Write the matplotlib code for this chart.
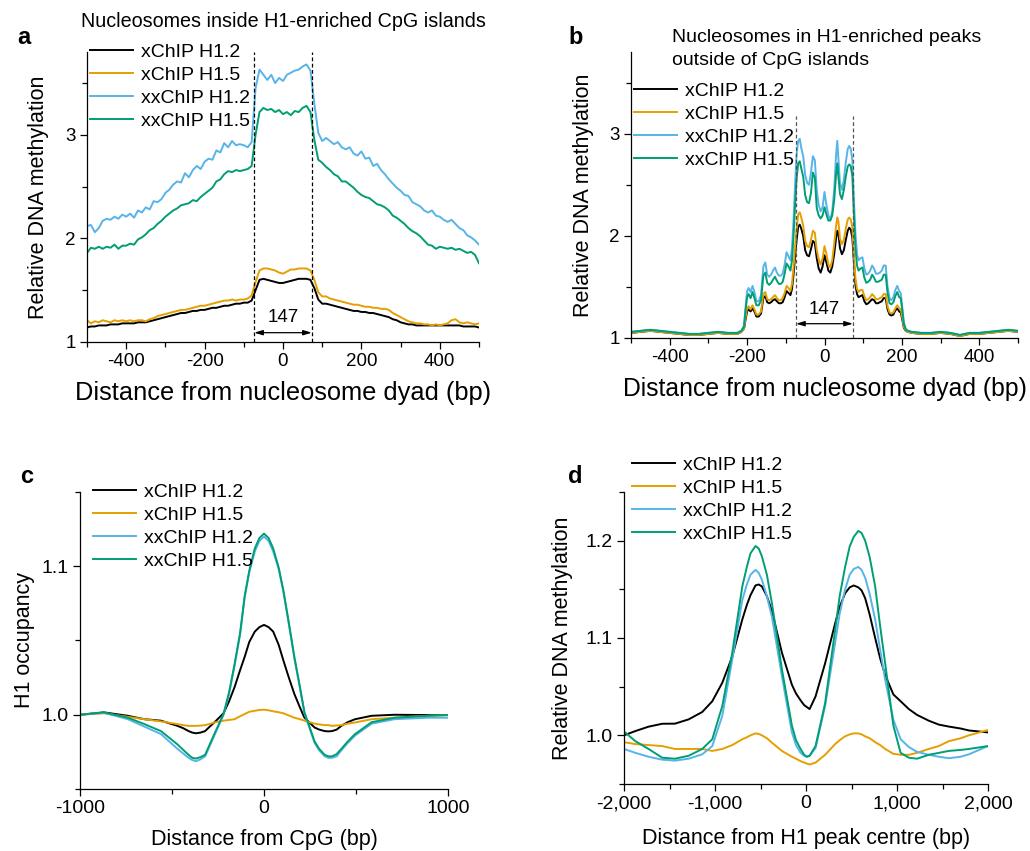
import matplotlib
matplotlib.use('Agg')
import matplotlib.pyplot as plt
from matplotlib.ticker import MultipleLocator, FixedLocator, FuncFormatter, FormatStrFormatter

plt.rcParams['font.family'] = ['Liberation Sans', 'DejaVu Sans']
plt.rcParams['axes.unicode_minus'] = False

labels = ['xChIP H1.2', 'xChIP H1.5', 'xxChIP H1.2', 'xxChIP H1.5']
colors = ['#000000', '#E69F00', '#56B4E9', '#009E73']

# --- a: nucleosomes inside H1-enriched CpG islands (10 bp bins) ---
pos_a = list(range(-500, 501, 10))
a_x12 = [1.14, 1.15, 1.15, 1.16, 1.16, 1.16, 1.17, 1.17, 1.17, 1.18, 1.18, 1.18, 1.18, 1.19, 1.19, 1.19, 1.20,
         1.21, 1.22, 1.23, 1.24, 1.25, 1.26, 1.27, 1.28, 1.28, 1.29, 1.30, 1.30, 1.31, 1.31, 1.32, 1.33, 1.33,
         1.34, 1.35, 1.35, 1.36, 1.37, 1.37, 1.38, 1.38, 1.40, 1.50, 1.60, 1.61, 1.60, 1.59, 1.58, 1.57, 1.57,
         1.58, 1.59, 1.60, 1.61, 1.61, 1.61, 1.60, 1.52, 1.41, 1.37, 1.37, 1.36, 1.35, 1.34, 1.33, 1.32, 1.31,
         1.30, 1.30, 1.29, 1.29, 1.28, 1.28, 1.27, 1.26, 1.25, 1.24, 1.22, 1.21, 1.19, 1.18, 1.17, 1.17, 1.16,
         1.16, 1.16, 1.16, 1.16, 1.16, 1.16, 1.16, 1.16, 1.16, 1.16, 1.16, 1.15, 1.15, 1.15, 1.15, 1.14]
a_x15 = [1.21, 1.18, 1.20, 1.19, 1.21, 1.20, 1.19, 1.21, 1.20, 1.21, 1.20, 1.21, 1.20, 1.21, 1.21, 1.20, 1.22,
         1.23, 1.25, 1.26, 1.27, 1.28, 1.29, 1.30, 1.31, 1.31, 1.32, 1.33, 1.34, 1.35, 1.35, 1.36, 1.37, 1.38,
         1.39, 1.40, 1.40, 1.41, 1.40, 1.41, 1.41, 1.42, 1.45, 1.58, 1.69, 1.71, 1.71, 1.70, 1.69, 1.67, 1.66,
         1.68, 1.70, 1.70, 1.71, 1.71, 1.71, 1.69, 1.60, 1.48, 1.44, 1.44, 1.42, 1.41, 1.40, 1.39, 1.38, 1.37,
         1.36, 1.36, 1.35, 1.34, 1.34, 1.33, 1.33, 1.32, 1.32, 1.31, 1.28, 1.26, 1.24, 1.22, 1.20, 1.19, 1.18,
         1.18, 1.17, 1.17, 1.16, 1.17, 1.16, 1.17, 1.18, 1.21, 1.22, 1.19, 1.18, 1.19, 1.18, 1.17, 1.18]
a_xx12 = [2.12, 2.13, 2.06, 2.10, 2.17, 2.19, 2.18, 2.21, 2.19, 2.23, 2.21, 2.24, 2.20, 2.27, 2.25, 2.30, 2.28,
          2.36, 2.35, 2.38, 2.44, 2.47, 2.52, 2.55, 2.54, 2.63, 2.59, 2.66, 2.70, 2.67, 2.74, 2.77, 2.76, 2.85,
          2.83, 2.92, 2.88, 2.94, 2.90, 2.91, 2.90, 2.88, 2.93, 3.45, 3.63, 3.58, 3.53, 3.58, 3.50, 3.55, 3.52,
          3.58, 3.60, 3.62, 3.63, 3.66, 3.68, 3.62, 3.30, 3.02, 2.94, 2.97, 2.94, 2.91, 2.93, 2.88, 2.86, 2.88,
          2.82, 2.80, 2.84, 2.77, 2.78, 2.70, 2.72, 2.66, 2.62, 2.57, 2.53, 2.49, 2.46, 2.42, 2.41, 2.35, 2.33,
          2.31, 2.27, 2.25, 2.27, 2.22, 2.21, 2.18, 2.16, 2.18, 2.14, 2.10, 2.08, 2.03, 2.01, 1.98, 1.94]
a_xx15 = [1.86, 1.91, 1.90, 1.92, 1.90, 1.92, 1.91, 1.94, 1.90, 1.93, 1.93, 1.95, 1.94, 1.99, 2.01, 2.04, 2.08,
          2.10, 2.14, 2.17, 2.21, 2.24, 2.27, 2.29, 2.32, 2.33, 2.34, 2.37, 2.36, 2.40, 2.43, 2.46, 2.49, 2.55,
          2.57, 2.62, 2.65, 2.64, 2.66, 2.65, 2.66, 2.67, 2.70, 3.00, 3.22, 3.26, 3.24, 3.25, 3.22, 3.24, 3.20,
          3.22, 3.19, 3.23, 3.22, 3.26, 3.28, 3.22, 2.95, 2.76, 2.73, 2.69, 2.66, 2.62, 2.60, 2.55, 2.55, 2.52,
          2.49, 2.45, 2.42, 2.40, 2.39, 2.36, 2.33, 2.32, 2.30, 2.27, 2.22, 2.20, 2.17, 2.14, 2.10, 2.07, 2.05,
          2.02, 1.98, 1.94, 1.93, 1.90, 1.92, 1.91, 1.90, 1.91, 1.89, 1.90, 1.88, 1.86, 1.87, 1.84, 1.76]

# --- b: nucleosomes in H1-enriched peaks outside CpG islands ---
pos_b = [-500, -475, -450, -425, -400, -375, -350, -325, -300, -275, -250, -225,
         -215, -208, -204, -200, -196, -191, -186, -181, -176, -170, -164, -158, -153, -148, -143, -138, -133,
         -128, -123, -118, -113, -108, -103, -98, -93, -88, -84, -80, -76, -72, -68, -64, -60,
         -55, -50, -45, -40, -35, -30, -25, -20, -15, -10, -5, 0, 5, 10, 15, 20, 25, 30, 33, 36, 40, 45, 50, 55,
         60, 64, 68, 72, 76, 80, 84, 88,
         93, 98, 103, 108, 113, 118, 123, 128, 133, 138, 143, 148, 153, 158,
         163, 168, 173, 178, 183, 188, 193,
         197, 201, 205, 210, 216,
         225, 250, 275, 300, 325, 350, 375, 400, 425, 450, 475, 500]
b_x12 = [1.05, 1.06, 1.07, 1.06, 1.05, 1.04, 1.03, 1.03, 1.04, 1.05, 1.04, 1.04,
         1.06, 1.09, 1.18, 1.26, 1.28, 1.26, 1.29, 1.26, 1.21, 1.21, 1.24, 1.39, 1.41, 1.35, 1.34, 1.35, 1.37,
         1.38, 1.36, 1.34, 1.34, 1.35, 1.40, 1.46, 1.44, 1.42, 1.48, 1.62, 1.80, 1.96, 2.09, 2.11, 2.07,
         2.00, 1.86, 1.81, 1.80, 1.87, 1.95, 1.93, 1.78, 1.68, 1.64, 1.70, 1.81, 1.74, 1.66, 1.64, 1.70, 1.82,
         1.98, 2.05, 2.02, 1.88, 1.82, 1.86, 1.96,
         2.05, 2.08, 2.06, 1.98, 1.74, 1.52, 1.43, 1.40,
         1.41, 1.42, 1.36, 1.33, 1.34, 1.36, 1.38, 1.37, 1.34, 1.34, 1.35, 1.36, 1.39, 1.39,
         1.28, 1.23, 1.22, 1.23, 1.27, 1.29, 1.26,
         1.25, 1.18, 1.10, 1.07, 1.06,
         1.05, 1.04, 1.04, 1.05, 1.04, 1.02, 1.04, 1.04, 1.05, 1.06, 1.07, 1.06]
b_x15 = [1.05, 1.06, 1.07, 1.06, 1.05, 1.04, 1.03, 1.03, 1.04, 1.05, 1.04, 1.04,
         1.06, 1.09, 1.20, 1.29, 1.31, 1.28, 1.32, 1.28, 1.23, 1.23, 1.26, 1.43, 1.45, 1.38, 1.37, 1.38, 1.40,
         1.42, 1.39, 1.37, 1.37, 1.39, 1.44, 1.51, 1.49, 1.46, 1.53, 1.69, 1.89, 2.07, 2.21, 2.23, 2.18,
         2.10, 1.95, 1.90, 1.89, 1.96, 2.05, 2.03, 1.86, 1.77, 1.72, 1.78, 1.90, 1.82, 1.72, 1.69, 1.76, 1.92,
         2.10, 2.18, 2.14, 1.97, 1.92, 1.96, 2.07,
         2.16, 2.18, 2.16, 2.08, 1.80, 1.58, 1.48, 1.45,
         1.47, 1.47, 1.41, 1.37, 1.38, 1.40, 1.43, 1.41, 1.38, 1.38, 1.39, 1.40, 1.43, 1.43,
         1.31, 1.25, 1.24, 1.25, 1.29, 1.32, 1.29,
         1.28, 1.20, 1.11, 1.07, 1.06,
         1.05, 1.04, 1.04, 1.05, 1.04, 1.02, 1.04, 1.04, 1.05, 1.06, 1.07, 1.06]
b_xx12 = [1.06, 1.07, 1.08, 1.07, 1.06, 1.05, 1.04, 1.04, 1.05, 1.06, 1.05, 1.05,
          1.07, 1.12, 1.30, 1.46, 1.49, 1.45, 1.51, 1.45, 1.36, 1.36, 1.42, 1.70, 1.74, 1.62, 1.60, 1.62, 1.66,
          1.69, 1.64, 1.61, 1.61, 1.63, 1.72, 1.84, 1.80, 1.76, 1.88, 2.15, 2.50, 2.80, 2.93, 2.95, 2.86,
          2.78, 2.60, 2.52, 2.50, 2.62, 2.78, 2.74, 2.45, 2.30, 2.24, 2.28, 2.43, 2.30, 2.20, 2.16, 2.24, 2.45,
          2.80, 2.93, 2.75, 2.52, 2.45, 2.55, 2.72,
          2.85, 2.88, 2.85, 2.74, 2.35, 2.02, 1.82, 1.76,
          1.78, 1.79, 1.68, 1.62, 1.63, 1.66, 1.71, 1.68, 1.63, 1.63, 1.64, 1.66, 1.71, 1.71,
          1.50, 1.39, 1.37, 1.40, 1.47, 1.51, 1.46,
          1.44, 1.30, 1.15, 1.09, 1.07,
          1.06, 1.05, 1.05, 1.06, 1.05, 1.03, 1.05, 1.05, 1.06, 1.07, 1.08, 1.07]
b_xx15 = [1.06, 1.07, 1.08, 1.07, 1.06, 1.05, 1.04, 1.04, 1.05, 1.06, 1.05, 1.05,
          1.07, 1.11, 1.27, 1.40, 1.43, 1.39, 1.45, 1.39, 1.32, 1.32, 1.37, 1.61, 1.64, 1.54, 1.52, 1.54, 1.57,
          1.60, 1.56, 1.53, 1.53, 1.55, 1.63, 1.73, 1.70, 1.66, 1.76, 2.00, 2.30, 2.56, 2.71, 2.73, 2.66,
          2.58, 2.40, 2.33, 2.32, 2.42, 2.62, 2.57, 2.27, 2.20, 2.17, 2.20, 2.28, 2.21, 2.15, 2.15, 2.20, 2.35,
          2.60, 2.71, 2.58, 2.41, 2.36, 2.45, 2.58,
          2.68, 2.70, 2.68, 2.58, 2.20, 1.88, 1.71, 1.66,
          1.68, 1.69, 1.59, 1.54, 1.55, 1.57, 1.62, 1.59, 1.55, 1.55, 1.56, 1.57, 1.62, 1.62,
          1.44, 1.34, 1.33, 1.35, 1.41, 1.45, 1.40,
          1.39, 1.27, 1.14, 1.08, 1.07,
          1.06, 1.05, 1.05, 1.06, 1.05, 1.03, 1.05, 1.05, 1.06, 1.07, 1.08, 1.07]

# --- c: H1 occupancy around CpG ---
pos_c = [-1000, -870, -740, -650, -560, -470, -440, -410, -390, -370, -345, -320, -295, -270, -220, -190,
         -160, -130, -105, -80, -50, -25, 0, 25, 50, 80, 105, 135, 165, 195, 220, 275, 300, 330, 350, 370,
         395, 420, 455, 495, 585, 710, 890, 1000]
c_x12 = [1.000, 1.0016, 0.9993, 0.997, 0.996, 0.9925, 0.991, 0.989, 0.988, 0.9875, 0.988, 0.989, 0.992,
         0.9948, 1.001, 1.009, 1.0186, 1.030, 1.039, 1.049, 1.056, 1.059, 1.0605, 1.059, 1.056, 1.047, 1.0367,
         1.025, 1.014, 1.005, 0.998, 0.9914, 0.990, 0.989, 0.9888, 0.989, 0.990, 0.9925, 0.995, 0.997, 0.9993,
         1.000, 0.9998, 0.9998]
c_x15 = [1.000, 1.001, 0.9986, 0.997, 0.9955, 0.9937, 0.993, 0.9925, 0.9925, 0.9925, 0.9927, 0.993, 0.9938,
         0.9948, 0.996, 0.9965, 0.997, 0.999, 1.0005, 1.002, 1.0027, 1.0032, 1.0034, 1.003, 1.0023, 1.0017,
         1.001, 0.9995, 0.998, 0.997, 0.996, 0.994, 0.9935, 0.993, 0.993, 0.9925, 0.9928, 0.993, 0.994, 0.9948,
         0.997, 0.998, 0.9993, 0.9998]
c_xx12 = [1.000, 1.0014, 0.997, 0.992, 0.987, 0.977, 0.974, 0.971, 0.9695, 0.9687, 0.970, 0.972, 0.979,
          0.986, 1.000, 1.014, 1.033, 1.054, 1.079, 1.096, 1.110, 1.117, 1.120, 1.117, 1.110, 1.098, 1.083,
          1.061, 1.038, 1.018, 1.001, 0.981, 0.976, 0.972, 0.971, 0.971, 0.972, 0.976, 0.981, 0.986, 0.994,
          0.997, 0.998, 0.998]
c_xx15 = [1.000, 1.0016, 0.998, 0.9937, 0.989, 0.980, 0.9765, 0.973, 0.971, 0.9705, 0.9715, 0.973, 0.980,
          0.987, 1.0005, 1.015, 1.034, 1.055, 1.080, 1.097, 1.112, 1.119, 1.122, 1.119, 1.112, 1.099, 1.084,
          1.062, 1.039, 1.019, 1.0016, 0.982, 0.977, 0.973, 0.972, 0.972, 0.9735, 0.977, 0.982, 0.987, 0.995,
          0.998, 0.9993, 0.9998]

# --- d: DNA methylation around H1 peak centre ---
pos_d = [-2000, -1875, -1730, -1580, -1440, -1290, -1140, -1030, -920, -810, -700, -650, -610, -555, -520,
         -485, -430, -375, -265, -155, -110, -60, -20, 10, 40, 105, 210, 320, 370, 430, 480, 525, 575, 610,
         650, 700, 760, 815, 870, 960, 1040, 1130, 1220, 1350, 1460, 1570, 1700, 1790, 2000]
d_x12 = [1.000, 1.0044, 1.0089, 1.0119, 1.012, 1.0164, 1.024, 1.035, 1.054, 1.081, 1.119, 1.134, 1.144,
         1.154, 1.155, 1.153, 1.143, 1.128, 1.085, 1.052, 1.043, 1.036, 1.031, 1.029, 1.027, 1.040, 1.074,
         1.115, 1.132, 1.146, 1.152, 1.154, 1.152, 1.149, 1.141, 1.124, 1.100, 1.079, 1.062, 1.042, 1.035,
         1.027, 1.021, 1.015, 1.011, 1.009, 1.007, 1.005, 1.003]
d_x15 = [0.993, 0.991, 0.990, 0.989, 0.986, 0.986, 0.986, 0.984, 0.986, 0.990, 0.996, 0.998, 1.000, 1.002,
         1.0015, 1.000, 0.997, 0.9925, 0.984, 0.978, 0.976, 0.9735, 0.972, 0.971, 0.970, 0.972, 0.980, 0.991,
         0.995, 0.999, 1.001, 1.002, 1.002, 1.001, 0.999, 0.997, 0.993, 0.990, 0.986, 0.981, 0.980, 0.980,
         0.982, 0.986, 0.989, 0.994, 0.997, 1.000, 1.0055]
d_xx12 = [0.986, 0.982, 0.978, 0.975, 0.974, 0.976, 0.9805, 0.989, 1.020, 1.078, 1.139, 1.155, 1.165, 1.170,
          1.167, 1.160, 1.143, 1.122, 1.061, 1.003, 0.990, 0.982, 0.979, 0.978, 0.979, 0.987, 1.030, 1.095,
          1.125, 1.150, 1.165, 1.171, 1.173, 1.170, 1.162, 1.145, 1.119, 1.088, 1.057, 1.016, 0.996, 0.988,
          0.983, 0.980, 0.978, 0.9765, 0.978, 0.9805, 0.989]
d_xx15 = [1.004, 0.994, 0.986, 0.977, 0.976, 0.979, 0.986, 0.996, 1.030, 1.085, 1.153, 1.173, 1.187, 1.1945,
          1.192, 1.184, 1.165, 1.136, 1.068, 1.010, 0.995, 0.986, 0.980, 0.978, 0.979, 0.989, 1.033, 1.108,
          1.143, 1.173, 1.194, 1.204, 1.210, 1.208, 1.200, 1.183, 1.153, 1.112, 1.074, 1.010, 0.982, 0.977,
          0.976, 0.980, 0.982, 0.984, 0.985, 0.986, 0.989]

W, H = 1030, 851
fig = plt.figure(figsize=(W / 100, H / 100), dpi=100)


def rect(l, t, r, b):
    return [l / W, 1 - b / H, (r - l) / W, (b - t) / H]


def fpos(x, y):
    return x / W, 1 - y / H


def style(ax, tick_size):
    for s in ('top', 'right'):
        ax.spines[s].set_visible(False)
    for s in ('left', 'bottom'):
        ax.spines[s].set_linewidth(0.9)
    ax.tick_params(which='major', direction='out', length=5, width=0.9, labelsize=tick_size, pad=3)
    ax.tick_params(which='minor', direction='out', length=3.5, width=0.9)


def draw(ax, x, series, lw):
    for ys, c, lab in zip(series, colors, labels):
        ax.plot(x, ys, color=c, lw=lw, label=lab, solid_joinstyle='round')


def legend(ax, x, y):
    ax.legend(loc='upper left', bbox_to_anchor=fpos(x, y), bbox_transform=fig.transFigure,
              frameon=False, fontsize=14, handlelength=2.2, handletextpad=0.4,
              labelspacing=0.28, borderpad=0, borderaxespad=0)


def span_arrow(ax, y_arrow, y_text):
    ax.annotate('', xy=(-73.5, y_arrow), xytext=(73.5, y_arrow),
                arrowprops=dict(arrowstyle='<|-|>,head_length=0.5,head_width=0.15',
                                color='black', lw=0.9, shrinkA=0, shrinkB=0))
    ax.text(0, y_text, '147', ha='center', va='center', fontsize=13.5)


# panel a
ax = fig.add_axes(rect(87, 52, 479, 342))
style(ax, 13.5)
draw(ax, pos_a, [a_x12, a_x15, a_xx12, a_xx15], 1.4)
ax.set_xlim(-500, 500)
ax.set_ylim(1, 3.8)
ax.xaxis.set_major_locator(FixedLocator([-400, -200, 0, 200, 400]))
ax.xaxis.set_minor_locator(FixedLocator([-500, -300, -100, 100, 300, 500]))
ax.yaxis.set_major_locator(FixedLocator([1, 2, 3]))
ax.yaxis.set_minor_locator(FixedLocator([1.5, 2.5, 3.5]))
for xv in (-73.5, 73.5):
    ax.plot([xv, xv], [1, 3.8], color='black', lw=0.9, ls=(0, (3, 2)), clip_on=False)
span_arrow(ax, 1.09, 1.24)
ax.set_xlabel('Distance from nucleosome dyad (bp)', fontsize=18.3)
ax.set_ylabel('Relative DNA methylation', fontsize=15.5)
ax.xaxis.set_label_coords(0.5, -0.135)
ax.yaxis.set_label_coords(-0.097, 0.5)
ax.set_title('Nucleosomes inside H1-enriched CpG islands', fontsize=14.2, pad=18)
legend(ax, 90, 43)

# panel b
ax = fig.add_axes(rect(631, 52, 1018, 338))
style(ax, 13.5)
draw(ax, pos_b, [b_x12, b_x15, b_xx12, b_xx15], 1.4)
ax.set_xlim(-500, 500)
ax.set_ylim(1, 3.8)
ax.xaxis.set_major_locator(FixedLocator([-400, -200, 0, 200, 400]))
ax.xaxis.set_minor_locator(FixedLocator([-500, -300, -100, 100, 300, 500]))
ax.yaxis.set_major_locator(FixedLocator([1, 2, 3]))
ax.yaxis.set_minor_locator(FixedLocator([1.5, 2.5, 3.5]))
for xv in (-73.5, 73.5):
    ax.plot([xv, xv], [1, 3.17], color='#555555', lw=0.9, ls=(0, (3, 2)))
span_arrow(ax, 1.14, 1.28)
ax.set_xlabel('Distance from nucleosome dyad (bp)', fontsize=17.8)
ax.set_ylabel('Relative DNA methylation', fontsize=15.5)
ax.xaxis.set_label_coords(0.5, -0.135)
ax.yaxis.set_label_coords(-0.095, 0.5)
fig.text(*fpos(672, 29), 'Nucleosomes in H1-enriched peaks\noutside of CpG islands',
         fontsize=14, ha='left', va='top', linespacing=1.45)
legend(ax, 634, 82)

# panel c
ax = fig.add_axes(rect(80, 492, 448, 789))
style(ax, 14)
draw(ax, pos_c, [c_x12, c_x15, c_xx12, c_xx15], 1.4)
ax.set_xlim(-1000, 1000)
ax.set_ylim(0.95, 1.15)
ax.xaxis.set_major_locator(FixedLocator([-1000, 0, 1000]))
ax.xaxis.set_minor_locator(FixedLocator([-500, 500]))
ax.yaxis.set_major_locator(FixedLocator([1.0, 1.1]))
ax.yaxis.set_minor_locator(FixedLocator([0.95, 1.05, 1.15]))
ax.yaxis.set_major_formatter(FormatStrFormatter('%.1f'))
ax.set_xlabel('Distance from CpG (bp)', fontsize=15.5)
ax.set_ylabel('H1 occupancy', fontsize=15.5)
ax.xaxis.set_label_coords(0.5, -0.135)
ax.yaxis.set_label_coords(-0.122, 0.5)
legend(ax, 93, 483)

# panel d
ax = fig.add_axes(rect(624, 492, 988, 784))
style(ax, 14)
draw(ax, pos_d, [d_x12, d_x15, d_xx12, d_xx15], 1.4)
ax.set_xlim(-2000, 2000)
ax.set_ylim(0.95, 1.25)
ax.xaxis.set_major_locator(MultipleLocator(1000))
ax.xaxis.set_minor_locator(FixedLocator([-1500, -500, 500, 1500]))
ax.yaxis.set_major_locator(FixedLocator([1.0, 1.1, 1.2]))
ax.yaxis.set_minor_locator(FixedLocator([0.95, 1.05, 1.15, 1.25]))
ax.yaxis.set_major_formatter(FormatStrFormatter('%.1f'))
ax.xaxis.set_major_formatter(FuncFormatter(lambda v, p: f'{int(v):,}'))
ax.set_xlabel('Distance from H1 peak centre (bp)', fontsize=15.5)
ax.set_ylabel('Relative DNA methylation', fontsize=15.5)
ax.xaxis.set_label_coords(0.5, -0.15)
ax.yaxis.set_label_coords(-0.14, 0.5)
legend(ax, 632, 456)

# panel letters
for letter, (x, y) in zip('abcd', [(17, 44), (568, 44), (20, 483), (568, 483)]):
    fig.text(*fpos(x, y), letter, fontsize=17, fontweight='bold', ha='left', va='baseline')

fig.savefig('out.png', dpi=100)
